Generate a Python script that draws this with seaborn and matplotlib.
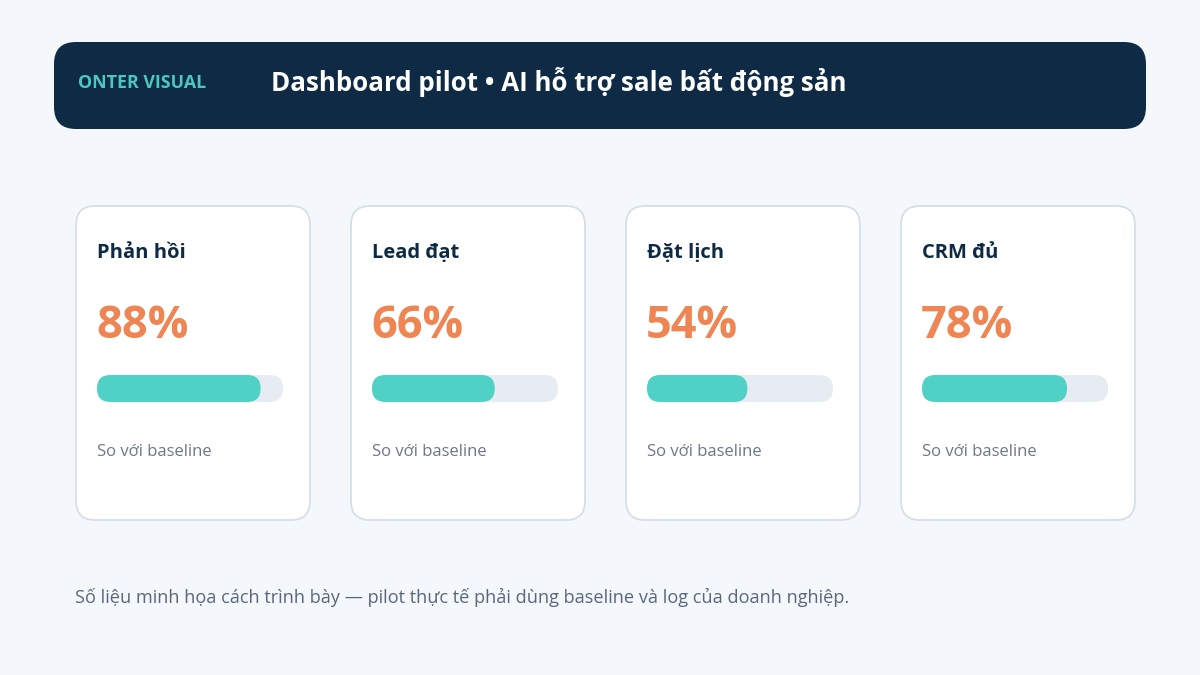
import matplotlib
matplotlib.use("Agg")
import matplotlib.pyplot as plt
from matplotlib.patches import FancyBboxPatch
import seaborn as sns
import pandas as pd

# ---- data ----
brand = "ONTER VISUAL"
title = "Dashboard pilot • AI hỗ trợ sale bất động sản"
categories = ["Phản hồi", "Lead đạt", "Đặt lịch", "CRM đủ"]
values = [88, 66, 54, 78]
sub_label = "So với baseline"
footer = "Số liệu minh họa cách trình bày — pilot thực tế phải dùng baseline và log của doanh nghiệp."

# ---- style ----
BG = "#f4f7fb"
HEADER = "#0f2a44"
TEAL = "#4fd1c5"
BRAND_C = "#4cc8c0"
TRACK = "#e6ecf2"
ORANGE = "#ee8553"
BORDER = "#d6dee8"
DARK = "#0f2a44"
SUB = "#6b7788"
FOOT = "#5a677a"

sns.set_theme(style="white")
plt.rcParams["font.family"] = ["Open Sans", "DejaVu Sans"]

W, H = 1200, 675
fig = plt.figure(figsize=(12, 6.75), dpi=100)
fig.patch.set_facecolor(BG)

bg = fig.add_axes([0, 0, 1, 1])
bg.set_xlim(0, W)
bg.set_ylim(H, 0)
bg.axis("off")
bg.set_facecolor(BG)

# header
bg.add_patch(FancyBboxPatch((54, 42), 1092, 87, boxstyle="round,pad=0,rounding_size=22",
                            fc=HEADER, ec="none"))
bg.text(78, 88, brand, color=BRAND_C, fontsize=12.8, fontweight="bold", va="baseline", ha="left")
bg.text(271, 91, title, color="white", fontsize=18.65, fontweight="bold", va="baseline", ha="left")

# cards
card_x = [76, 351, 626, 901]
card_w, card_y, card_h = 234, 206, 314
bar_off, bar_w, bar_y, bar_h = 21, 186, 375, 27

for i, (cat, val) in enumerate(zip(categories, values)):
    x0 = card_x[i]
    bg.add_patch(FancyBboxPatch((x0, card_y), card_w, card_h,
                                boxstyle="round,pad=0,rounding_size=19",
                                fc="white", ec=BORDER, lw=1.3))
    bg.text(x0 + 21, 257.5, cat, color=DARK, fontsize=14.5, fontweight="bold", va="baseline")
    bg.text(x0 + 20, 338, f"{val}%", color=ORANGE, fontsize=32.5, fontweight="bold", va="baseline")
    bg.text(x0 + 21, 455.5, sub_label, color=SUB, fontsize=12, va="baseline")

    # progress bar axes
    bx = (x0 + bar_off) / W
    by = 1 - (bar_y + bar_h) / H
    ax = fig.add_axes([bx, by, bar_w / W, bar_h / H])
    df = pd.DataFrame({"metric": ["track", "value"], "pct": [100, val], "row": [0, 0]})
    sns.barplot(data=df, x="pct", y="row", hue="metric", orient="h",
                palette={"track": TRACK, "value": TEAL}, dodge=False, saturation=1,
                width=1.0, legend=False, ax=ax)
    ax.set_xlim(0, 100)
    ax.set_ylim(0.5, -0.5)
    ax.axis("off")
    # round the bars
    px_per_x = bar_w / 100.0
    px_per_y = bar_h / 1.0
    r_x = (bar_h / 2) / px_per_x
    aspect = (1 / px_per_y) / (1 / px_per_x)
    patches = list(ax.patches)
    for p in patches:
        bx0, by0 = p.get_x(), p.get_y()
        pw, ph = p.get_width(), p.get_height()
        fc = p.get_facecolor()
        z = p.get_zorder()
        p.remove()
        ax.add_patch(FancyBboxPatch((bx0, by0), pw, ph,
                                    boxstyle=f"round,pad=0,rounding_size={r_x}",
                                    mutation_aspect=aspect, fc=fc, ec="none", zorder=z))

bg.text(75, 603, footer, color=FOOT, fontsize=13.1, va="baseline", ha="left")

fig.savefig("out.png", dpi=100, facecolor=BG)
